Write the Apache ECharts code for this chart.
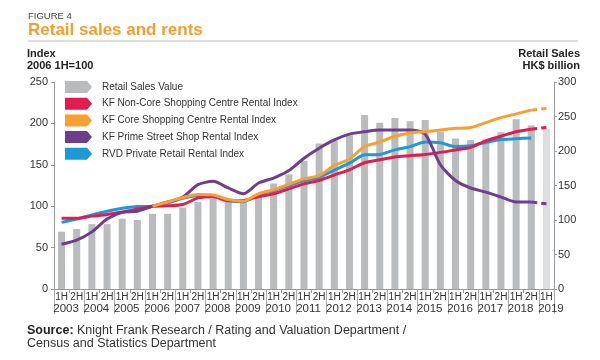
<!DOCTYPE html>
<html>
<head>
<meta charset="utf-8">
<script src="https://cdn.jsdelivr.net/npm/echarts@6/dist/echarts.min.js"></script>
<style>html,body{margin:0;padding:0;background:#fff;}#c{width:600px;height:360px;}</style>
</head>
<body>
<div id="c"></div>
<script>
const categories = ['2003 1H','2003 2H','2004 1H','2004 2H','2005 1H','2005 2H','2006 1H','2006 2H','2007 1H','2007 2H','2008 1H','2008 2H','2009 1H','2009 2H','2010 1H','2010 2H','2011 1H','2011 2H','2012 1H','2012 2H','2013 1H','2013 2H','2014 1H','2014 2H','2015 1H','2015 2H','2016 1H','2016 2H','2017 1H','2017 2H','2018 1H','2018 2H','2019 1H'];
const retailSales = [83,87,94,94,102,100,109,109,118,126,131,126,126,136,153,166,186,211,215,223,252,241,248,243,245,228,218,216,217,227,246,237,232];
const nonCore = [85.5,85.5,88,90,93,96.5,100,100.5,102,110,111.5,106.5,107,111.5,115,121,127,131,137.7,144,152.5,156,159.5,161,162.5,165,168,171,179,184.5,190,193,195];
const core = [null,null,null,null,null,null,100,105,110.5,114,113.5,108,106,115,120,126.5,133,137,149,157,172,177.5,184.5,188.5,190,192,194,195,201,207,211.5,216,218];
const prime = [54,59,69,84.5,92.6,94,100,105,111,126,130,122,115,128,134,143,158,170,180,187,190,192,192,192,187,150,131,122,117,111,105,105,103];
const rvd = [80.5,84.5,89.5,94,97.5,99.5,100,104,109.5,113,112.5,107,105.5,114,119,125,131,135,143.7,152,162,162.5,168,172,177.5,176.5,172,173,177,180.5,181.5,182.5,null];
const leftAxis = {min:0,max:250,interval:50};
const rightAxis = {min:0,max:300,interval:50};

const C = {red:'#e31b4f',orange:'#f7a032',purple:'#6e3e8e',blue:'#1c9ad6',bar:'#b9bbbd',barLight:'#dcdddf'};
const lastIdx = categories.length - 1;
const solid = a => a.map((v,i)=> i<lastIdx ? v : null);
const dashed = a => a.map((v,i)=> i>=lastIdx-1 ? v : null);
const icon = 'path://M0,0 L22,0 L27,6 L22,12 L0,12 Z';
const font = 'Liberation Sans, Arial, sans-serif';

function lineSeries(name, data, color, z){
  return {name:name,type:'line',yAxisIndex:0,data:solid(data),showSymbol:false,smooth:0.25,z:z,
    lineStyle:{width:3,color:color},itemStyle:{color:color}};
}
function dashSeries(name, data, color, z){
  return {name:name+' f',type:'line',yAxisIndex:0,data:dashed(data),showSymbol:false,z:z,
    lineStyle:{width:3,color:color,type:[6,4]},itemStyle:{color:color}};
}

const chart = echarts.init(document.getElementById('c'),null,{renderer:'canvas'});
chart.setOption({
  animation:false,
  textStyle:{fontFamily:font},
  title:[
    {text:'FIGURE 4',left:28,top:11,padding:0,textStyle:{fontSize:9.5,fontWeight:'normal',color:'#444',fontFamily:font}},
    {text:'Retail sales and rents',left:28,top:22,padding:0,textStyle:{fontSize:17,fontWeight:'bold',color:'#f59e2f',fontFamily:font}},
    {text:'Index',left:27,top:48,padding:0,textStyle:{fontSize:11,fontWeight:'bold',color:'#222',fontFamily:font}},
    {text:'2006 1H=100',left:27,top:60,padding:0,textStyle:{fontSize:11,fontWeight:'bold',color:'#222',fontFamily:font}},
    {text:'Retail Sales',right:20,top:48,padding:0,textStyle:{fontSize:11,fontWeight:'bold',color:'#222',fontFamily:font}},
    {text:'HK$ billion',right:20,top:60,padding:0,textStyle:{fontSize:11,fontWeight:'bold',color:'#222',fontFamily:font}},
    {text:'{b|Source:} Knight Frank Research / Rating and Valuation Department /\nCensus and Statistics Department',left:27,top:324,padding:0,
      textStyle:{fontSize:12.5,fontWeight:'normal',color:'#333',lineHeight:13,fontFamily:font,
        rich:{b:{fontWeight:'bold',fontSize:12.5,color:'#222',fontFamily:font}}}}
  ],
  graphic:[{type:'line',shape:{x1:28,y1:41,x2:578,y2:41},style:{stroke:'#bbb',lineWidth:1}}],
  legend:{
    left:65,top:81,orient:'vertical',padding:0,itemWidth:27,itemHeight:12,itemGap:4.7,icon:icon,
    textStyle:{fontSize:10,color:'#333',padding:[0,0,0,5],fontFamily:font},
    data:['Retail Sales Value','KF Non-Core Shopping Centre Rental Index','KF Core Shopping Centre Rental Index','KF Prime Street Shop Rental Index','RVD Private Retail Rental Index']
  },
  grid:{left:54,right:46,top:82,bottom:71},
  xAxis:[
    {type:'category',data:categories,
      axisLine:{lineStyle:{color:'#999'}},
      axisTick:{show:true,length:4,lineStyle:{color:'#999'}},
      axisLabel:{interval:0,margin:3,fontSize:10,color:'#333',formatter:v=>v.split(' ')[1]}},
    {type:'category',data:categories,position:'bottom',
      axisLine:{show:false},
      axisTick:{show:true,length:25,interval:(i)=>i%2===0,lineStyle:{color:'#aaa'}},
      axisLabel:{interval:0,margin:14,fontSize:11.5,color:'#333',padding:[0,0,0,9],
        formatter:(v,i)=> i%2===0 ? v.split(' ')[0] : ''}}
  ],
  yAxis:[
    {type:'value',min:leftAxis.min,max:leftAxis.max,interval:leftAxis.interval,position:'left',
      axisLine:{show:true,lineStyle:{color:'#999'}},axisTick:{show:true,length:3,lineStyle:{color:'#999'}},
      splitLine:{show:false},axisLabel:{fontSize:11,color:'#333',margin:6}},
    {type:'value',min:rightAxis.min,max:rightAxis.max,interval:rightAxis.interval,position:'right',
      axisLine:{show:true,lineStyle:{color:'#999'}},axisTick:{show:true,length:3,lineStyle:{color:'#999'}},
      splitLine:{show:false},axisLabel:{fontSize:11,color:'#333',margin:4}}
  ],
  series:[
    {name:'Retail Sales Value',type:'bar',yAxisIndex:1,barWidth:7,z:1,itemStyle:{color:C.bar},
      data:retailSales.map((v,i)=> i===lastIdx ? {value:v,itemStyle:{color:C.barLight}} : v)},
    lineSeries('RVD Private Retail Rental Index',rvd,C.blue,2),
    lineSeries('KF Non-Core Shopping Centre Rental Index',nonCore,C.red,3),
    dashSeries('KF Non-Core Shopping Centre Rental Index',nonCore,C.red,3),
    lineSeries('KF Prime Street Shop Rental Index',prime,C.purple,4),
    dashSeries('KF Prime Street Shop Rental Index',prime,C.purple,4),
    lineSeries('KF Core Shopping Centre Rental Index',core,C.orange,5),
    dashSeries('KF Core Shopping Centre Rental Index',core,C.orange,5)
  ]
});
</script>
</body>
</html>
